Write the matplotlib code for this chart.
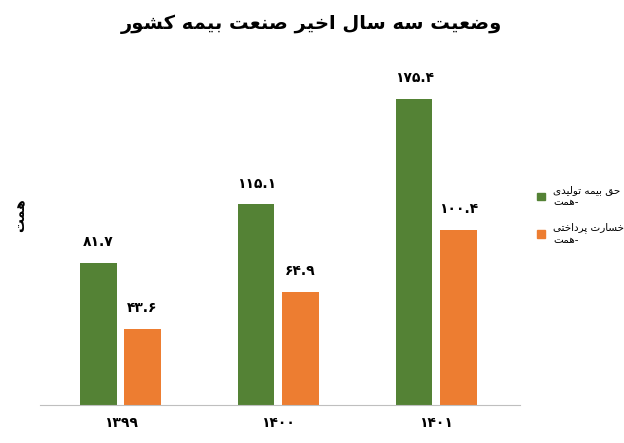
import matplotlib
matplotlib.use("Agg")
import matplotlib.pyplot as plt
from matplotlib.patches import Patch

years = ["۱۳۹۹", "۱۴۰۰", "۱۴۰۱"]
premium = [81.7, 115.1, 175.4]
claims = [43.6, 64.9, 100.4]
premium_labels = ["۸۱.۷", "۱۱۵.۱", "۱۷۵.۴"]
claims_labels = ["۴۳.۶", "۶۴.۹", "۱۰۰.۴"]
title = "وضعیت سه سال اخیر صنعت بیمه کشور"
leg1 = ["حق بیمه تولیدی", "-همت"]
leg2 = ["خسارت پرداختی", "-همت"]
ylab = "همت"

FORMS = {
 'ا': (0xFE8D, 0xFE8E, None, None), 'ب': (0xFE8F, 0xFE90, 0xFE91, 0xFE92),
 'پ': (0xFB56, 0xFB57, 0xFB58, 0xFB59), 'ت': (0xFE95, 0xFE96, 0xFE97, 0xFE98),
 'ح': (0xFEA1, 0xFEA2, 0xFEA3, 0xFEA4), 'خ': (0xFEA5, 0xFEA6, 0xFEA7, 0xFEA8),
 'د': (0xFEA9, 0xFEAA, None, None), 'ر': (0xFEAD, 0xFEAE, None, None),
 'س': (0xFEB1, 0xFEB2, 0xFEB3, 0xFEB4), 'ش': (0xFEB5, 0xFEB6, 0xFEB7, 0xFEB8),
 'ص': (0xFEB9, 0xFEBA, 0xFEBB, 0xFEBC), 'ض': (0xFEBD, 0xFEBE, 0xFEBF, 0xFEC0),
 'ع': (0xFEC9, 0xFECA, 0xFECB, 0xFECC), 'ق': (0xFED5, 0xFED6, 0xFED7, 0xFED8),
 'ک': (0xFB8E, 0xFB8F, 0xFB90, 0xFB91), 'ل': (0xFEDD, 0xFEDE, 0xFEDF, 0xFEE0),
 'م': (0xFEE1, 0xFEE2, 0xFEE3, 0xFEE4), 'ن': (0xFEE5, 0xFEE6, 0xFEE7, 0xFEE8),
 'ه': (0xFEE9, 0xFEEA, 0xFEEB, 0xFEEC), 'و': (0xFEED, 0xFEEE, None, None),
 'ی': (0xFBFC, 0xFBFD, 0xFBFE, 0xFBFF),
}

def shape(s):
    out = []
    for i, c in enumerate(s):
        if c not in FORMS:
            out.append(c); continue
        p = s[i-1] if i > 0 else ''
        n = s[i+1] if i < len(s)-1 else ''
        jp = p in FORMS and FORMS[p][2] is not None
        jn = n in FORMS and FORMS[c][2] is not None
        f = FORMS[c]
        if jp and jn: code = f[3]
        elif jp: code = f[1]
        elif jn: code = f[2]
        else: code = f[0]
        out.append(chr(code))
    return ''.join(reversed(out))

plt.rcParams['font.family'] = ['DejaVu Sans']
fig = plt.figure(figsize=(6.24, 4.43), dpi=100)
ax = fig.add_axes([40/624, 38/443, 480/624, 345/443])
green, orange = "#548235", "#ED7D31"
x = list(range(len(years)))
off, w = 0.14, 0.23
ax.bar([i - off for i in x], premium, w, color=green)
ax.bar([i + off for i in x], claims, w, color=orange)
for i in x:
    ax.text(i - off, premium[i] + 8, premium_labels[i], ha='center', va='bottom', fontsize=10, fontweight='bold')
    ax.text(i + off, claims[i] + 8, claims_labels[i], ha='center', va='bottom', fontsize=10, fontweight='bold')
ax.set_xlim(-0.51, 2.53)
ax.set_ylim(0, 198)
ax.set_xticks(x)
ax.set_xticklabels(years, fontsize=10, fontweight='bold')
ax.tick_params(axis='x', length=0, pad=8)
ax.set_yticks([])
for s in ['top', 'right', 'left']:
    ax.spines[s].set_visible(False)
ax.spines['bottom'].set_color('#bfbfbf')
fig.text(0.5, 0.945, shape(title), ha='center', va='center', fontsize=14, fontweight='bold')
fig.text(20/624, 228/443, shape(ylab), rotation=90, ha='center', va='center', fontsize=10, fontweight='bold')
fig.legend(handles=[Patch(color=green), Patch(color=orange)],
           labels=[shape(leg1[0]) + "\n" + shape(leg1[1]), shape(leg2[0]) + "\n" + shape(leg2[1])],
           loc='center left', bbox_to_anchor=(528/624, 228/443), frameon=False,
           fontsize=7.5, handlelength=0.7, handleheight=0.7, labelspacing=1.5)
fig.savefig("out.png", dpi=100)
